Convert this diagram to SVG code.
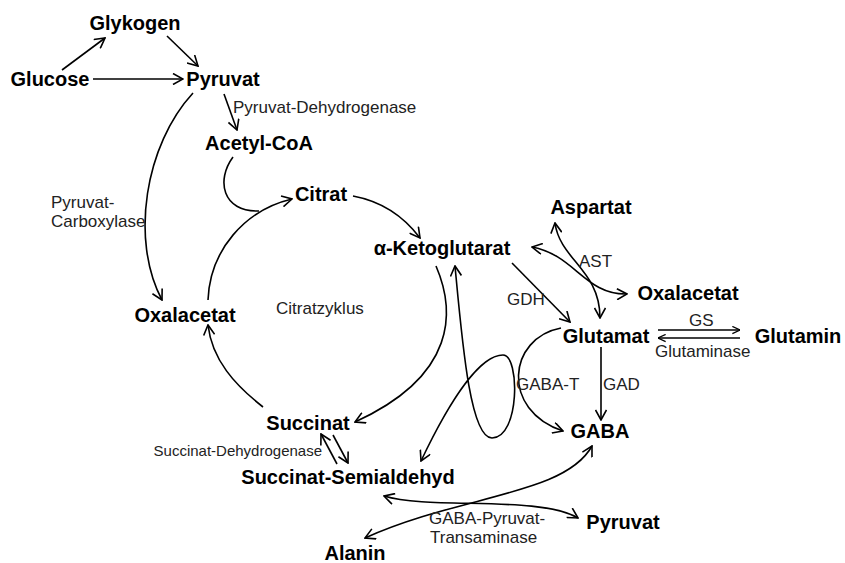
<svg xmlns="http://www.w3.org/2000/svg" width="845" height="563" viewBox="0 0 845 563">
<style>
.n{font-family:"Liberation Sans",Arial,sans-serif;font-weight:bold;font-size:20px;fill:#000;text-anchor:middle}
.l{font-family:"Liberation Sans",Arial,sans-serif;font-size:17px;fill:#222}
.c{fill:none;stroke:#000;stroke-width:1.6}
.a{marker-end:url(#ah)}
.b{marker-start:url(#ah);marker-end:url(#ah)}
</style>
<defs>
<marker id="ah" viewBox="0 0 12 12" refX="11" refY="6" markerWidth="12" markerHeight="12" markerUnits="userSpaceOnUse" orient="auto-start-reverse">
<path d="M1,0.5 L11,6 L1,11.5" fill="none" stroke="#000" stroke-width="1.6"/>
</marker>
<marker id="sh" viewBox="0 0 10 10" refX="9.5" refY="5" markerWidth="9" markerHeight="9" markerUnits="userSpaceOnUse" orient="auto-start-reverse">
<path d="M1,1 L9.5,5 L1,9" fill="none" stroke="#000" stroke-width="1.4"/>
</marker>
</defs>
<rect width="845" height="563" fill="#fff"/>
<g id="connectors">
<path class="c a" d="M62,70 L105,38"/>
<path class="c a" d="M167,36 L198,66"/>
<path class="c a" d="M93,79 L183,79"/>
<path class="c a" d="M224,94 L237,130"/>
<path class="c a" d="M193,93 C145,145 130,240 162,300"/>
<path class="c" d="M233,157 C216,180 222,212 259,211"/>
<path class="c a" d="M208,300 C210,250 245,210 292,199"/>
<path class="c a" d="M353,196 C385,202 405,218 420,238"/>
<path class="c a" d="M436,266 C455,310 458,375 355,422"/>
<path class="c a" d="M263,407 C235,385 212,360 208,325"/>
<path class="c a" d="M337,464 L321,434"/>
<path class="c a" d="M333,435 L348,463"/>
<path class="c a" d="M512,263 L570,322"/>
<path class="c b" d="M555,223 C560,260 600,270 600,318"/>
<path class="c b" d="M532,247 C575,255 585,295 627,294"/>
<path class="c" d="M658,330 L740,330" marker-end="url(#sh)"/>
<path class="c" d="M740,338 L658,338" marker-end="url(#sh)"/>
<path class="c a" d="M601,347 L601,420"/>
<path class="c a" d="M561,328 C508,338 500,410 563,431"/>
<path class="c b" d="M455,266 C462,340 470,438 492,438 C520,438 520,355 503,355 C480,355 450,400 421,461"/>
<path class="c b" d="M384,496 C430,510 540,495 578,518"/>
<path class="c b" d="M592,446 C565,495 460,495 365,538"/>
</g>
<g id="labels">
<text class="l" x="233" y="113">Pyruvat-Dehydrogenase</text>
<text class="l" x="51" y="208">Pyruvat-</text>
<text class="l" x="51" y="227">Carboxylase</text>
<text class="l" x="276" y="314">Citratzyklus</text>
<text class="l" x="579" y="267">AST</text>
<text class="l" x="507" y="305">GDH</text>
<text class="l" x="689" y="326">GS</text>
<text class="l" x="655" y="357">Glutaminase</text>
<text class="l" x="516" y="390">GABA-T</text>
<text class="l" x="603" y="390">GAD</text>
<text class="l" x="322" y="456" style="font-size:15px;text-anchor:end">Succinat-Dehydrogenase</text>
<text class="l" x="429" y="524">GABA-Pyruvat-</text>
<text class="l" x="430" y="543">Transaminase</text>
</g>
<g id="glykogen"><text class="n" x="135" y="30">Glykogen</text></g>
<g id="glucose"><text class="n" x="50" y="86">Glucose</text></g>
<g id="pyruvat1"><text class="n" x="223" y="86">Pyruvat</text></g>
<g id="acetylcoa"><text class="n" x="259" y="150">Acetyl-CoA</text></g>
<g id="citrat"><text class="n" x="321" y="201">Citrat</text></g>
<g id="ketoglutarat"><text class="n" x="442" y="255">α-Ketoglutarat</text></g>
<g id="aspartat"><text class="n" x="591" y="214">Aspartat</text></g>
<g id="oxalacetat2"><text class="n" x="688" y="300">Oxalacetat</text></g>
<g id="glutamat"><text class="n" x="606" y="343">Glutamat</text></g>
<g id="glutamin"><text class="n" x="798" y="343">Glutamin</text></g>
<g id="oxalacetat1"><text class="n" x="185" y="322">Oxalacetat</text></g>
<g id="succinat"><text class="n" x="308" y="430">Succinat</text></g>
<g id="ssa"><text class="n" x="348" y="484">Succinat-Semialdehyd</text></g>
<g id="gaba"><text class="n" x="600" y="438">GABA</text></g>
<g id="pyruvat2"><text class="n" x="623" y="529">Pyruvat</text></g>
<g id="alanin"><text class="n" x="355" y="560">Alanin</text></g>
</svg>
